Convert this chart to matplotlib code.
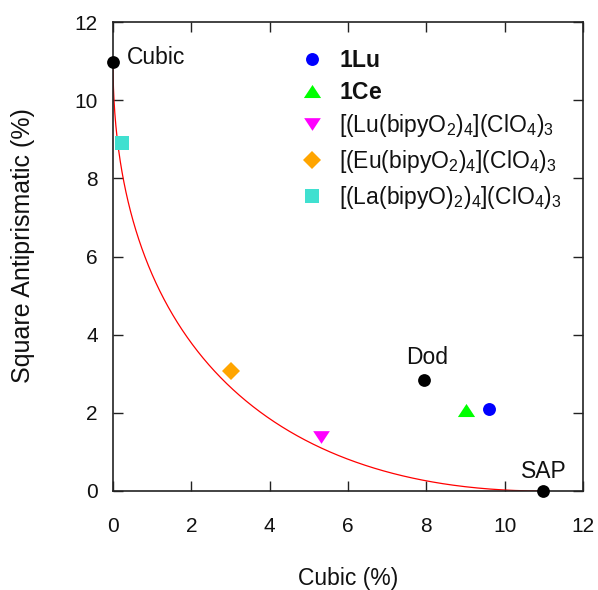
import numpy as np
import matplotlib
matplotlib.use('Agg')
import matplotlib.pyplot as plt

plt.rcParams['font.family'] = ['Liberation Sans', 'DejaVu Sans']
plt.rcParams['mathtext.fontset'] = 'custom'
plt.rcParams['mathtext.rm'] = 'Liberation Sans'
plt.rcParams['mathtext.it'] = 'Liberation Sans:italic'
plt.rcParams['mathtext.bf'] = 'Liberation Sans:bold'

# Reference polyhedra (continuous shape measures, %)
ref_names = ['Cubic', 'Dod', 'SAP']
ref_cubic = [0.0, 7.95, 10.98]
ref_sap = [10.98, 2.85, 0.0]

# Compounds
cmp_labels = [r'$\mathbf{1Lu}$', r'$\mathbf{1Ce}$',
              r'[(Lu(bipyO$_2$)$_4$](ClO$_4$)$_3$',
              r'[(Eu(bipyO$_2$)$_4$](ClO$_4$)$_3$',
              r'[(La(bipyO)$_2$)$_4$](ClO$_4$)$_3$']
cmp_cubic = [9.6, 9.0, 5.3, 3.02, 0.22]
cmp_sap = [2.1, 2.08, 1.39, 3.08, 8.9]

x_ticks = [0, 2, 4, 6, 8, 10, 12]
y_ticks = [0, 2, 4, 6, 8, 10, 12]

tri_up = [(-1, -0.76), (1, -0.76), (0, 0.76), (-1, -0.76)]
tri_dn = [(-1, 0.76), (1, 0.76), (0, -0.76), (-1, 0.76)]
cmp_styles = [
    dict(marker='o', color='#0000ff', ms=9.3),
    dict(marker=tri_up, color='#00ff00', ms=12.4),
    dict(marker=tri_dn, color='#ff00ff', ms=12.0),
    dict(marker='D', color='#ffa500', ms=9.0),
    dict(marker='s', color='#40e0d0', ms=9.4),
]

FS_TICK = 15
FS_TEXT = 16.5

fig = plt.figure(figsize=(5.98, 5.90), dpi=100)
ax = fig.add_axes([113 / 598, 1 - 491 / 590, 470 / 598, 469 / 590])

# Minimal distortion path between the cube and the square antiprism
theta = np.arcsin(np.sqrt(ref_sap[0]) / 10.0)
t = np.linspace(0, theta, 500)
ax.plot(100 * np.sin(t) ** 2, 100 * np.sin(theta - t) ** 2,
        color='#ff0000', lw=0.9, zorder=2)

handles = []
for xv, yv, lab, st in zip(cmp_cubic, cmp_sap, cmp_labels, cmp_styles):
    h, = ax.plot([xv], [yv], linestyle='none', marker=st['marker'],
                 color=st['color'], markersize=st['ms'], markeredgewidth=0,
                 label=lab, zorder=3, clip_on=False)
    handles.append(h)

ax.plot(ref_cubic, ref_sap, linestyle='none', marker='o', color='black',
        markersize=9.2, markeredgewidth=0, zorder=4, clip_on=False)

offsets = {'Cubic': (10, -1.2, 'left'), 'Dod': (2, 11.3, 'center'),
           'SAP': (0.5, 9.6, 'center')}
for name, xv, yv in zip(ref_names, ref_cubic, ref_sap):
    dx, dy, ha = offsets[name]
    ax.annotate(name, (xv, yv), xytext=(dx, dy), textcoords='offset points',
                ha=ha, va='baseline', fontsize=FS_TEXT, color='#111111')

ax.set_xlim(0, 12)
ax.set_ylim(0, 12)
ax.set_xticks(x_ticks)
ax.set_yticks(y_ticks)
ax.tick_params(direction='in', length=7, width=1, top=True, right=True,
               labelsize=FS_TICK, colors='#222222', labelcolor='#111111')
ax.tick_params(axis='x', pad=19)
ax.tick_params(axis='y', pad=11)
for sp in ax.spines.values():
    sp.set_color('#222222')
    sp.set_linewidth(1.2)

ax.set_xlabel('Cubic (%)', fontsize=FS_TEXT, color='#111111')
ax.set_ylabel('Square Antiprismatic (%)', fontsize=18, color='#111111')
ax.xaxis.set_label_coords(0.5, -0.163)
ax.yaxis.set_label_coords(-0.166, 0.524)

leg = ax.legend(handles=handles, loc='upper left', frameon=False,
                bbox_to_anchor=(302 / 598, 1 - 49 / 590),
                bbox_transform=fig.transFigure, borderpad=0,
                borderaxespad=0, handlelength=0.9, handletextpad=0.7,
                labelspacing=0.38, fontsize=FS_TEXT)
for txt in leg.get_texts():
    txt.set_color('#111111')

fig.savefig('out.png', dpi=100)
